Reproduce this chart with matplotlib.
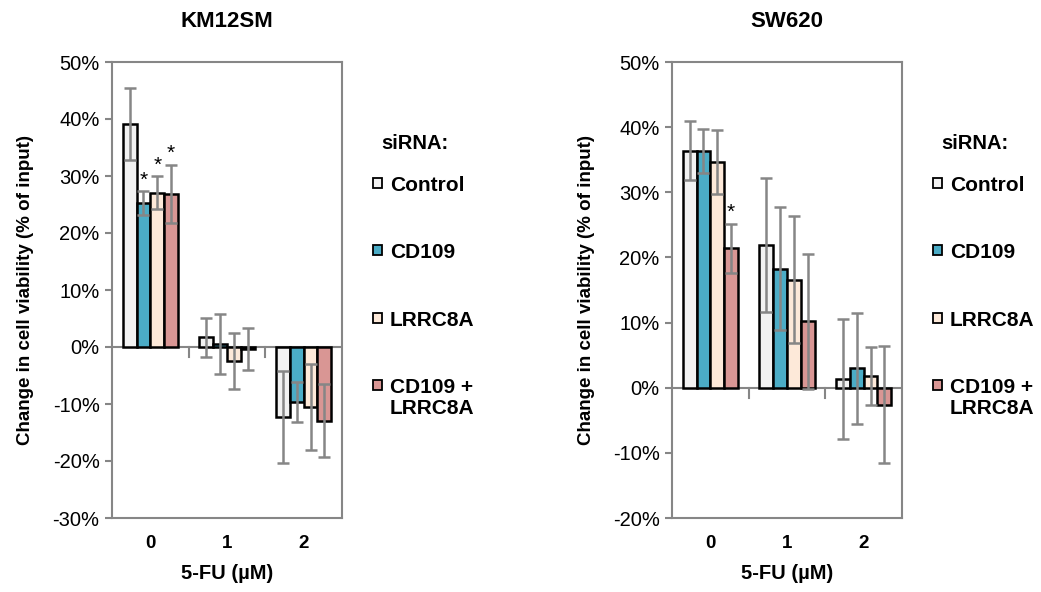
import numpy as np
import matplotlib
matplotlib.use("Agg")
import matplotlib.pyplot as plt
from matplotlib.patches import Rectangle

plt.rcParams['font.family'] = ['Liberation Sans', 'DejaVu Sans']

# dados
doses = ['0', '1', '2']
grupos = ['Control', 'CD109', 'LRRC8A', 'CD109 +\nLRRC8A']
cores = ['#F2F2F2', '#4BACC6', '#FDE9D9', '#D99694']

km12_vals = [[39.1, 1.7, -12.3],
             [25.3, 0.5, -9.7],
             [27.1, -2.4, -10.5],
             [26.9, -0.4, -12.9]]
km12_err = [[6.3, 3.4, 8.1],
            [2.1, 5.3, 3.5],
            [2.9, 4.9, 7.6],
            [5.1, 3.7, 6.4]]
km12_star = [(1, 0), (2, 0), (3, 0)]

sw620_vals = [[36.4, 21.9, 1.3],
              [36.3, 18.3, 3.0],
              [34.6, 16.6, 1.8],
              [21.4, 10.2, -2.6]]
sw620_err = [[4.5, 10.3, 9.2],
             [3.4, 9.4, 8.5],
             [4.9, 9.7, 4.5],
             [3.8, 10.4, 9.0]]
sw620_star = [(3, 0)]

cinza = '#868686'


def painel(ax, titulo, vals, errs, estrelas, ymin, ymax):
    x = np.arange(len(doses))
    w = 0.18
    for i in range(len(grupos)):
        pos = x + (i - 1.5) * w
        ax.bar(pos, vals[i], width=w, color=cores[i], edgecolor='black',
               linewidth=1.8, zorder=2)
        ax.errorbar(pos, vals[i], yerr=errs[i], fmt='none', ecolor=cinza,
                    elinewidth=1.8, capsize=4.5, capthick=1.8, zorder=3)
    for (i, j) in estrelas:
        ax.annotate('*', (j + (i - 1.5) * w, vals[i][j] + errs[i][j]),
                    xytext=(0, 1), textcoords='offset points',
                    ha='center', va='bottom', fontsize=15)

    ax.set_xlim(-0.5, 2.5)
    ax.set_ylim(ymin, ymax)
    ax.set_yticks(np.arange(ymin, ymax + 1, 10))
    ax.set_yticklabels([f'{v}%' for v in range(ymin, ymax + 1, 10)], fontsize=14.5)
    ax.set_xticks(x)
    ax.set_xticklabels(doses, fontsize=13.5, fontweight='bold')
    ax.tick_params(axis='x', length=0, pad=12)
    ax.tick_params(axis='y', length=5, color=cinza, width=1.5, pad=4)
    for s in ax.spines.values():
        s.set_color(cinza)
        s.set_linewidth(1.5)
    # linha do zero com marcas entre categorias
    ax.axhline(0, color=cinza, linewidth=1.5, zorder=1)
    for b in [0.5, 1.5]:
        ax.plot([b, b], [0, -(ymax - ymin) * 0.022], color=cinza,
                linewidth=1.5, zorder=1)
    ax.set_title(titulo, fontsize=16, fontweight='bold', pad=25)
    ax.set_xlabel('5-FU (µM)', fontsize=14.5, fontweight='bold', labelpad=9)
    ax.set_ylabel('Change in cell viability (% of input)', fontsize=13.5,
                  fontweight='bold', labelpad=13)

    # legenda
    ax.text(1.317, 0.822, 'siRNA:', transform=ax.transAxes, ha='center',
            va='center', fontsize=14.5, fontweight='bold')
    ys = [0.735, 0.588, 0.439, 0.292]
    for i in range(len(grupos)):
        ax.add_patch(Rectangle((1.136, ys[i] - 0.011), 0.038, 0.022,
                               transform=ax.transAxes, facecolor=cores[i],
                               edgecolor='black', linewidth=1.3,
                               clip_on=False))
        ax.text(1.208, ys[i] + 0.015, grupos[i], transform=ax.transAxes,
                ha='left', va='top', fontsize=15, fontweight='bold',
                linespacing=1.1)


fig = plt.figure(figsize=(10.41, 5.92), dpi=100)
ax1 = fig.add_axes([112 / 1041, 74 / 592, 230 / 1041, 456 / 592])
ax2 = fig.add_axes([672 / 1041, 74 / 592, 230 / 1041, 456 / 592])

painel(ax1, 'KM12SM', km12_vals, km12_err, km12_star, -30, 50)
painel(ax2, 'SW620', sw620_vals, sw620_err, sw620_star, -20, 50)

fig.savefig('out.png', dpi=100)
